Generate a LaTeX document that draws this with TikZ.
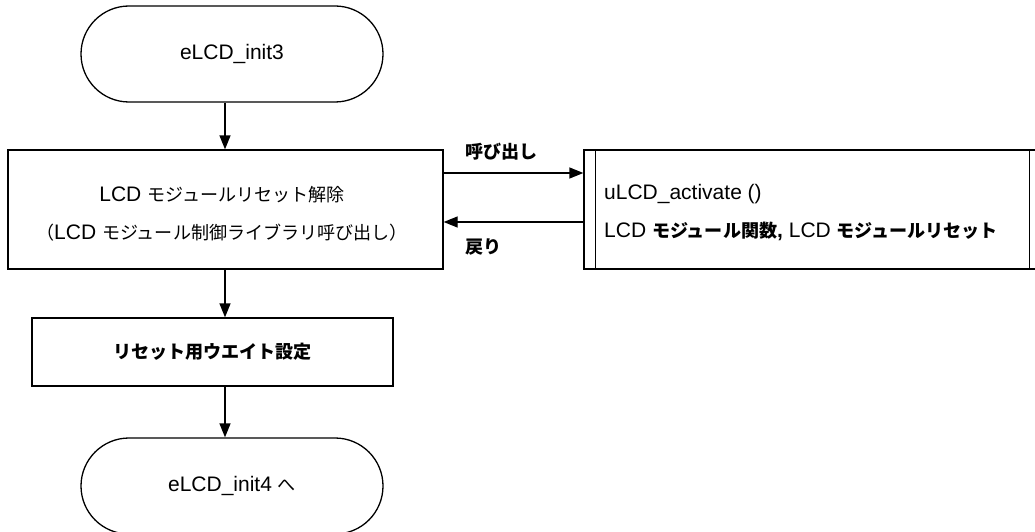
\documentclass[tikz,border=0pt]{standalone}
\usepackage{fontspec}
\setmainfont{Liberation Sans}
\newfontfamily\jp[Scale=0.86]{Noto Sans CJK JP}
\usetikzlibrary{arrows.meta}
\newcommand\J[1]{{\jp #1}}
\newcommand\JB[1]{{\jp\bfseries #1}}
\begin{document}
\begin{tikzpicture}[x=1pt,y=-1pt,
  every node/.style={font=\fontsize{21}{38}\selectfont},
  ln/.style={line width=1.3pt},
  term/.style={draw,ln,rounded corners=48pt,minimum width=302pt,minimum height=96pt,inner sep=0pt},
  proc/.style={draw,ln,inner sep=0pt,align=center},
  arr/.style={ln,-{Triangle[length=14pt,width=11pt]}},
  lbl/.style={anchor=west,inner sep=0pt}]
\useasboundingbox (0,0) rectangle (1035,532);
\clip (0,0) rectangle (1035,532);
\node[term] (t1) at (232,54) {eLCD\_init3};
\node[proc,minimum width=435pt,minimum height=119pt] (b1) at (225.5,209.5) {};
\node[align=center,inner sep=0pt] (b1txt) at (222,214)
  {LCD \J{モジュールリセット解除}\\ \J{（}LCD \J{モジュール制御ライブラリ呼び出し）}};
\node[proc,minimum width=458pt,minimum height=119pt] (sub) at (813,209.5) {};
\draw[ln] ([xshift=12pt]sub.north west) -- ([xshift=12pt]sub.south west);
\draw[ln] ([xshift=-13pt]sub.north east) -- ([xshift=-13pt]sub.south east);
\node[lbl,align=left] (subtxt) at (604,213)
  {uLCD\_activate ()\\ LCD \JB{モジュール関数}\textbf{,} LCD \JB{モジュールリセット}};
\node[proc,minimum width=361pt,minimum height=68pt] (b2) at (212.5,352) {\JB{リセット用ウエイト設定}};
\node[term] (t2) at (232,486) {eLCD\_init4 \J{へ}};
\coordinate (ax) at (225,0);
\coordinate (ya) at (0,173);
\coordinate (yb) at (0,222);
\draw[arr] (t1.south -| ax) -- (b1.north -| ax);
\draw[arr] (b1.south -| ax) -- (b2.north -| ax);
\draw[arr] (b2.south -| ax) -- (t2.north -| ax);
\draw[arr] (b1.east |- ya) -- (sub.west |- ya);
\draw[arr] (sub.west |- yb) -- (b1.east |- yb);
\node[lbl] (lcall) at (465,152) {\JB{呼び出し}};
\node[lbl] (lret) at (465,247) {\JB{戻り}};
\end{tikzpicture}
\end{document}
